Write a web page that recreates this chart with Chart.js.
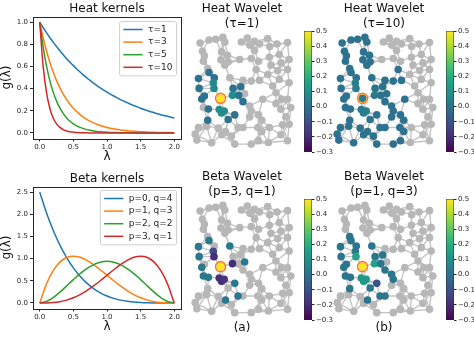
<!DOCTYPE html>
<html>
<head>
<meta charset="utf-8">
<title>Heat and Beta wavelets</title>
<script src="https://cdn.jsdelivr.net/npm/chart.js"></script>
<style>
  body { margin: 0; background: #fff; }
  #fig { position: relative; width: 474px; height: 342px; overflow: hidden; }
  #fig canvas { position: absolute; }
</style>
</head>
<body>
<div id="fig">
  <canvas id="heatKernels" style="left:0;top:0" width="190" height="168"></canvas>
  <canvas id="betaKernels" style="left:0;top:170px" width="190" height="168"></canvas>
  <canvas id="graphHeat1" style="left:180px;top:0" width="124" height="156"></canvas>
  <canvas id="graphHeat10" style="left:322px;top:0" width="124" height="156"></canvas>
  <canvas id="graphBeta31" style="left:180px;top:168px" width="124" height="168"></canvas>
  <canvas id="graphBeta13" style="left:322px;top:168px" width="124" height="168"></canvas>
  <canvas id="cbHeat1" style="left:304px;top:25px" width="30" height="133"></canvas>
  <canvas id="cbHeat10" style="left:446px;top:25px" width="30" height="133"></canvas>
  <canvas id="cbBeta31" style="left:304px;top:193px" width="30" height="133"></canvas>
  <canvas id="cbBeta13" style="left:446px;top:193px" width="30" height="133"></canvas>
</div>
<script>
// ---- kernel curves ----
const lambdaHeat = [0, 0.05, 0.1, 0.15, 0.2, 0.25, 0.3, 0.35, 0.4, 0.45, 0.5, 0.55, 0.6, 0.65, 0.7, 0.75, 0.8, 0.85, 0.9, 0.95,
  1.0, 1.05, 1.1, 1.15, 1.2, 1.25, 1.3, 1.35, 1.4, 1.45, 1.5, 1.55, 1.6, 1.65, 1.7, 1.75, 1.8, 1.85, 1.9, 1.95, 2.0];
const heatTau1 = [1.000, 0.951, 0.905, 0.861, 0.819, 0.779, 0.741, 0.705, 0.670, 0.638, 0.607, 0.577, 0.549, 0.522, 0.497, 0.472, 0.449, 0.427, 0.407, 0.387,
  0.368, 0.350, 0.333, 0.317, 0.301, 0.287, 0.273, 0.259, 0.247, 0.235, 0.223, 0.212, 0.202, 0.192, 0.183, 0.174, 0.165, 0.157, 0.150, 0.142, 0.135];
const heatTau3 = [1.000, 0.861, 0.741, 0.638, 0.549, 0.472, 0.407, 0.350, 0.301, 0.259, 0.223, 0.192, 0.165, 0.142, 0.122, 0.105, 0.091, 0.078, 0.067, 0.058,
  0.050, 0.043, 0.037, 0.032, 0.027, 0.024, 0.020, 0.017, 0.015, 0.013, 0.011, 0.010, 0.008, 0.007, 0.006, 0.005, 0.005, 0.004, 0.003, 0.003, 0.002];
const heatTau5 = [1.000, 0.779, 0.607, 0.472, 0.368, 0.287, 0.223, 0.174, 0.135, 0.105, 0.082, 0.064, 0.050, 0.039, 0.030, 0.024, 0.018, 0.014, 0.011, 0.009,
  0.007, 0.005, 0.004, 0.003, 0.002, 0.002, 0.001, 0.001, 0.001, 0, 0, 0, 0, 0, 0, 0, 0, 0, 0, 0, 0];
const heatTau10 = [1.000, 0.607, 0.368, 0.223, 0.135, 0.082, 0.050, 0.030, 0.018, 0.011, 0.007, 0.004, 0.002, 0.001, 0.001, 0, 0, 0, 0, 0,
  0, 0, 0, 0, 0, 0, 0, 0, 0, 0, 0, 0, 0, 0, 0, 0, 0, 0, 0, 0, 0];
const heatLabels = ['τ=1', 'τ=3', 'τ=5', 'τ=10'];

const lambdaBeta = [0, 0.1, 0.2, 0.3, 0.4, 0.5, 0.6, 0.7, 0.8, 0.9, 1.0, 1.1, 1.2, 1.3, 1.4, 1.5, 1.6, 1.7, 1.8, 1.9, 2.0];
const betaP0Q4 = [2.500, 2.036, 1.640, 1.305, 1.024, 0.791, 0.600, 0.446, 0.324, 0.229, 0.156, 0.103, 0.064, 0.038, 0.020, 0.010, 0.004, 0.001, 0, 0, 0];
const betaP1Q3 = [0, 0.429, 0.729, 0.921, 1.024, 1.055, 1.029, 0.961, 0.864, 0.749, 0.625, 0.501, 0.384, 0.279, 0.189, 0.117, 0.064, 0.029, 0.009, 0.001, 0];
const betaP2Q2 = [0, 0.034, 0.122, 0.244, 0.384, 0.527, 0.662, 0.776, 0.864, 0.919, 0.938, 0.919, 0.864, 0.776, 0.662, 0.527, 0.384, 0.244, 0.122, 0.034, 0];
const betaP3Q1 = [0, 0.001, 0.009, 0.029, 0.064, 0.117, 0.189, 0.279, 0.384, 0.501, 0.625, 0.749, 0.864, 0.961, 1.029, 1.055, 1.024, 0.921, 0.729, 0.429, 0];
const betaLabels = ['p=0, q=4', 'p=1, q=3', 'p=2, q=2', 'p=3, q=1'];

const lambdaTicks = [0, 0.5, 1.0, 1.5, 2.0];
const heatYTicks = [0, 0.2, 0.4, 0.6, 0.8, 1.0];
const betaYTicks = [0, 0.5, 1.0, 1.5, 2.0, 2.5];

// ---- sensor graph (node positions in layout units) ----
const nodeX = [35, 62, 82, 104, 110, 160, 178, 186, 200, 215, 240, 246, 268, 300,
  42, 48, 100, 118, 98, 120, 45, 200, 155, 190, 212, 245, 275, 305,
  58, 110, 250, 280, 205, 300, 270,
  62, 30, 78, 125, 240, 275, 305, 75, 77, 32, 135, 158, 165, 190, 215, 255,
  48, 40, 97, 133, 152, 170, 225, 265, 282, 300, 265, 165,
  45, 60, 93, 100, 108, 185, 190, 140, 120, 58, 185, 212, 222, 280, 310, 295,
  30, 55, 90, 100, 112, 130, 150, 165, 210, 222, 245, 285, 305, 20, 25, 70, 140, 190, 212, 242, 280, 300];
const nodeY = [45, 36, 34, 28, 42, 42, 30, 52, 40, 48, 32, 56, 48, 44,
  70, 84, 72, 82, 96, 102, 100, 68, 95, 92, 100, 88, 80, 95,
  122, 112, 112, 105, 125, 125, 128,
  134, 152, 150, 150, 140, 155, 165, 166, 182, 182, 182, 177, 158, 160, 158, 175,
  205, 214, 212, 203, 203, 198, 215, 195, 215, 215, 228, 222,
  240, 244, 246, 256, 250, 235, 250, 262, 276, 278, 268, 262, 278, 245, 240, 268,
  300, 296, 302, 322, 312, 326, 300, 300, 300, 312, 300, 292, 290, 320, 338, 346, 350, 350, 340, 345, 322, 340];
const centerNode = 53;

// wavelet coefficients per panel: [node, value]; nodes not listed are drawn grey
const heat1Nodes = [[35, 0], [36, 0], [37, 0], [42, 0.07], [43, 0.08], [44, 0], [45, 0], [46, 0], [51, 0], [52, 0],
  [53, 0.5], [54, 0.09], [55, 0], [62, 0], [64, 0], [65, 0.1], [66, 0.09], [67, 0.09], [70, 0], [71, 0], [72, 0]];
const heat10Nodes = [[0, 0], [1, 0], [2, 0], [3, 0], [4, 0], [14, 0], [15, 0], [16, 0], [17, 0], [18, 0], [19, 0], [20, 0],
  [28, 0], [29, 0], [32, 0], [35, 0], [36, 0], [37, 0], [38, 0], [42, 0.04], [43, 0.04], [44, 0], [45, 0], [46, 0],
  [47, 0], [48, 0], [49, 0], [51, 0], [52, 0], [53, 0.03], [54, 0.03], [55, 0], [56, 0], [57, 0], [62, 0], [63, 0],
  [64, 0], [65, 0.04], [66, 0.04], [67, 0.04], [68, 0], [69, 0], [70, 0], [71, 0], [72, 0], [73, 0], [74, 0], [75, 0],
  [79, 0], [80, 0], [81, 0], [82, 0], [83, 0], [84, 0], [85, 0], [86, 0], [87, 0], [88, 0], [92, 0], [93, 0],
  [94, 0], [95, 0], [96, 0], [97, 0]];
const beta31Nodes = [[35, 0.02], [36, 0.02], [38, 0.02], [42, -0.12], [43, -0.2], [44, 0.02], [52, 0.02], [53, 0.5],
  [54, -0.2], [56, 0.02], [63, 0.02], [64, 0.02], [65, -0.19], [66, -0.2], [67, -0.18], [70, 0.02], [83, 0.02], [85, 0.02]];
const beta13Nodes = [[28, 0.01], [35, 0.01], [36, 0.01], [37, 0.01], [38, 0.01], [42, 0.02], [43, 0.16], [44, 0.01],
  [45, 0.01], [46, 0.01], [51, 0.01], [52, 0.01], [53, 0.5], [54, 0.16], [55, 0.01], [62, 0.01], [63, 0.01], [64, 0.01],
  [65, 0.12], [66, 0.12], [67, 0.12], [68, 0.01], [69, 0.01], [70, -0.1], [71, 0.01], [72, 0.01], [83, 0.01], [85, 0.01], [86, 0.01]];

const cbMin = -0.3, cbMax = 0.5;
const cbTicks = [-0.3, -0.2, -0.1, 0, 0.1, 0.2, 0.3, 0.4, 0.5];

const FONT = 'DejaVu Sans';
const tab10 = ['#1f77b4', '#ff7f0e', '#2ca02c', '#d62728'];
const viridisStops = ['#440154', '#482475', '#414487', '#355f8d', '#2a788e', '#21918c',
  '#22a884', '#44bf70', '#7ad151', '#bddf26', '#fde725'];

function hexRgb(h) {
  return [1, 3, 5].map(i => parseInt(h.slice(i, i + 2), 16));
}
function viridis(v) {
  let t = (v - cbMin) / (cbMax - cbMin);
  t = Math.max(0, Math.min(1, t)) * 10;
  const i = Math.min(9, Math.floor(t)), f = t - i;
  const a = hexRgb(viridisStops[i]), b = hexRgb(viridisStops[i + 1]);
  const c = a.map((x, k) => Math.round(x + (b[k] - x) * f));
  return `rgb(${c[0]}, ${c[1]}, ${c[2]})`;
}

// edges: each sensor linked to its nearest neighbours
const edges = [];
(function buildEdges(k) {
  const seen = new Set();
  nodeX.forEach((x, i) => {
    nodeX.map((x2, j) => [j, Math.hypot(x2 - x, nodeY[j] - nodeY[i])])
      .filter(d => d[0] !== i)
      .sort((a, b) => a[1] - b[1])
      .slice(0, k)
      .forEach(([j]) => {
        const key = Math.min(i, j) + '-' + Math.max(i, j);
        if (!seen.has(key)) { seen.add(key); edges.push([i, j]); }
      });
  });
})(4);

// black box around the axes
const frame = {
  id: 'frame',
  afterDatasetsDraw(chart) {
    const { ctx, chartArea: a } = chart;
    ctx.save();
    ctx.strokeStyle = '#262626';
    ctx.lineWidth = 1;
    ctx.strokeRect(Math.round(a.left) + 0.5, Math.round(a.top) + 0.5,
      Math.round(a.right - a.left), Math.round(a.bottom - a.top));
    ctx.restore();
  }
};

// matplotlib-style legend in the upper right corner
const cornerLegend = {
  id: 'cornerLegend',
  afterDraw(chart, args, opts) {
    const { ctx, chartArea } = chart;
    const ds = chart.data.datasets;
    ctx.save();
    ctx.font = `9px "${FONT}"`;
    const textW = Math.max(...ds.map(d => ctx.measureText(d.label).width));
    const w = 28.5 + textW + 4;
    const h = ds.length * 12.6 + 4;
    const x0 = chartArea.right - 4.5 - w, y0 = chartArea.top + opts.top;
    ctx.beginPath();
    if (ctx.roundRect) ctx.roundRect(x0, y0, w, h, 2); else ctx.rect(x0, y0, w, h);
    ctx.fillStyle = 'rgba(255,255,255,0.8)';
    ctx.fill();
    ctx.strokeStyle = '#d0d0d0';
    ctx.lineWidth = 1;
    ctx.stroke();
    ds.forEach((d, i) => {
      const y = y0 + 8 + i * 12.6;
      ctx.strokeStyle = d.borderColor;
      ctx.lineWidth = 1.5;
      ctx.beginPath();
      ctx.moveTo(x0 + 3.8, y);
      ctx.lineTo(x0 + 23, y);
      ctx.stroke();
      ctx.fillStyle = '#262626';
      ctx.textBaseline = 'middle';
      ctx.fillText(d.label, x0 + 28.5, y);
    });
    ctx.restore();
  }
};

const fmt1 = v => (v < -1e-9 ? '\u2212' : '') + Math.abs(v).toFixed(1);

function kernelChart(id, title, xs, series, labels, yRange, yTicks, legendTop) {
  return new Chart(document.getElementById(id), {
    type: 'line',
    data: {
      datasets: series.map((ys, i) => ({
        label: labels[i],
        data: xs.map((x, j) => ({ x, y: ys[j] })),
        borderColor: tab10[i],
        borderWidth: 1.5,
        pointRadius: 0,
        cubicInterpolationMode: 'monotone',
        fill: false,
        order: series.length - i
      }))
    },
    options: {
      responsive: false,
      animation: false,
      layout: { padding: { left: 0, right: 9, top: 0, bottom: 0 } },
      plugins: {
        legend: { display: false },
        tooltip: { enabled: false },
        title: {
          display: true, text: title, fullSize: false, color: '#111',
          font: { family: FONT, size: 12, weight: 'normal', lineHeight: 1.25 },
          padding: { top: 1, bottom: 0.5 }
        },
        cornerLegend: { top: legendTop }
      },
      scales: {
        x: {
          type: 'linear', min: -0.1, max: 2.1,
          afterBuildTicks: s => { s.ticks = lambdaTicks.map(v => ({ value: v })); },
          afterFit: s => { s.height = 29.5; },
          ticks: { font: { family: FONT, size: 7 }, color: '#262626', padding: 1, maxRotation: 0, callback: fmt1 },
          grid: { drawOnChartArea: false, tickLength: 3, color: '#262626' },
          border: { display: false },
          title: { display: true, text: 'λ', color: '#111', font: { family: FONT, size: 12 }, padding: { top: 0, bottom: 4 } }
        },
        y: {
          min: yRange[0], max: yRange[1],
          afterBuildTicks: s => { s.ticks = yTicks.map(v => ({ value: v })); },
          afterFit: s => { s.width = 33; },
          ticks: { font: { family: FONT, size: 7 }, color: '#262626', padding: 2, callback: fmt1 },
          grid: { drawOnChartArea: false, tickLength: 3, color: '#262626' },
          border: { display: false },
          title: { display: true, text: 'g(λ)', color: '#111', font: { family: FONT, size: 12 }, padding: 0 }
        }
      }
    },
    plugins: [frame, cornerLegend]
  });
}

function graphChart(id, titleLines, coeffs, footer) {
  const value = new Map(coeffs);
  const edgePts = [];
  edges.forEach(([a, b]) => {
    edgePts.push({ x: nodeX[a], y: nodeY[a] }, { x: nodeX[b], y: nodeY[b] }, { x: nodeX[b], y: null });
  });
  const grey = [], colored = [], colors = [];
  nodeX.forEach((x, i) => {
    if (!value.has(i)) grey.push({ x, y: nodeY[i] });
  });
  coeffs.forEach(([n, v]) => {
    colored.push({ x: nodeX[n], y: nodeY[n] });
    colors.push(viridis(v));
  });
  const ring = [{ x: nodeX[centerNode], y: nodeY[centerNode] }];
  return new Chart(document.getElementById(id), {
    type: 'scatter',
    data: {
      datasets: [
        { data: ring, pointRadius: 5, pointBackgroundColor: 'rgba(0,0,0,0)', pointBorderColor: '#ff7f0e', pointBorderWidth: 1.6, clip: false },
        { data: colored, pointRadius: 3.8, pointBackgroundColor: colors, pointBorderWidth: 0, clip: false },
        { data: grey, pointRadius: 3.8, pointBackgroundColor: '#b7b7b7', pointBorderWidth: 0, clip: false },
        { data: edgePts, showLine: true, spanGaps: false, pointRadius: 0, borderColor: '#c4c4c4', borderWidth: 1.4, clip: false }
      ]
    },
    options: {
      responsive: false,
      animation: false,
      layout: { padding: { left: 6, right: 6, top: 0, bottom: footer ? 0 : 6 } },
      plugins: {
        legend: { display: false },
        tooltip: { enabled: false },
        title: {
          display: true, text: titleLines, color: '#111',
          font: { family: FONT, size: 12, weight: 'normal', lineHeight: 1.25 },
          padding: { top: 1, bottom: 0 }
        },
        subtitle: {
          display: !!footer, text: footer || '', position: 'bottom', color: '#111',
          font: { family: FONT, size: 12, lineHeight: 1.333 },
          padding: { top: 2, bottom: 0 }
        }
      },
      scales: {
        x: { type: 'linear', display: false, min: -6, max: 330 },
        y: { type: 'linear', display: false, reverse: true, min: 9, max: 366 }
      }
    }
  });
}

function colorbar(id) {
  return new Chart(document.getElementById(id), {
    type: 'bar',
    data: {
      labels: [''],
      datasets: [{
        data: [[cbMin, cbMax]],
        backgroundColor: c => {
          const area = c.chart.chartArea;
          if (!area) return viridisStops[5];
          const g = c.chart.ctx.createLinearGradient(0, area.bottom, 0, area.top);
          viridisStops.forEach((col, i) => g.addColorStop(i / 10, col));
          return g;
        },
        borderColor: '#262626',
        borderWidth: 0.8,
        borderSkipped: false,
        barPercentage: 1,
        categoryPercentage: 1
      }]
    },
    options: {
      responsive: false,
      animation: false,
      layout: { padding: { top: 6, bottom: 6, left: 0, right: 0 } },
      plugins: { legend: { display: false }, tooltip: { enabled: false } },
      scales: {
        x: { display: false },
        y: {
          position: 'right', min: cbMin, max: cbMax,
          afterBuildTicks: s => { s.ticks = cbTicks.map(v => ({ value: v })); },
          afterFit: s => { s.width = 22; },
          ticks: { font: { family: FONT, size: 7 }, color: '#262626', padding: 1.5, callback: fmt1 },
          grid: { drawOnChartArea: false, tickLength: 2.5, color: '#262626' },
          border: { display: false }
        }
      }
    }
  });
}

kernelChart('heatKernels', 'Heat kernels', lambdaHeat,
  [heatTau1, heatTau3, heatTau5, heatTau10], heatLabels, [-0.05, 1.05], heatYTicks, 5);
kernelChart('betaKernels', 'Beta kernels', lambdaBeta,
  [betaP0Q4, betaP1Q3, betaP2Q2, betaP3Q1], betaLabels, [-0.125, 2.625], betaYTicks, 4);

graphChart('graphHeat1', ['Heat Wavelet', '(τ=1)'], heat1Nodes);
graphChart('graphHeat10', ['Heat Wavelet', '(τ=10)'], heat10Nodes);
graphChart('graphBeta31', ['Beta Wavelet', '(p=3, q=1)'], beta31Nodes, '(a)');
graphChart('graphBeta13', ['Beta Wavelet', '(p=1, q=3)'], beta13Nodes, '(b)');

['cbHeat1', 'cbHeat10', 'cbBeta31', 'cbBeta13'].forEach(colorbar);
</script>
</body>
</html>
